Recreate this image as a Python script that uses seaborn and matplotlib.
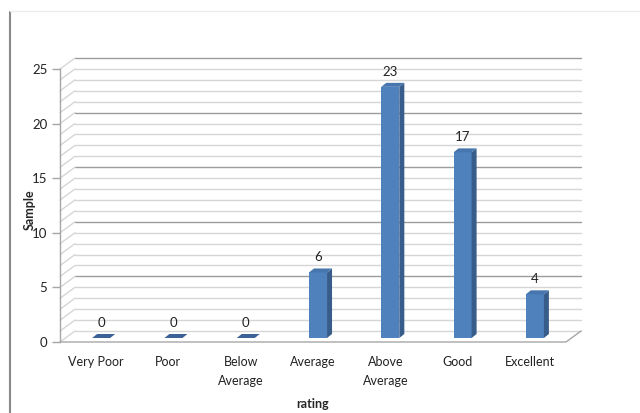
import matplotlib
matplotlib.use("Agg")
import matplotlib.pyplot as plt
from matplotlib.patches import Polygon
from matplotlib.lines import Line2D
import seaborn as sns
import pandas as pd

# Survey results: number of samples per rating
categories = ["Very Poor", "Poor", "Below\nAverage", "Average", "Above\nAverage", "Good", "Excellent"]
counts = [0, 0, 0, 6, 23, 17, 4]
y_ticks = [0, 5, 10, 15, 20, 25]

df = pd.DataFrame({"rating": categories, "Sample": counts})

sns.set_style("white")
plt.rcParams["font.family"] = ["Lato", "DejaVu Sans"]

DPI = 100
fig = plt.figure(figsize=(6.4, 4.13), dpi=DPI)
ax = fig.add_axes([60 / 640, 71 / 413, 506 / 640, 273 / 413])

FRONT = "#4F81BD"
SIDE = "#385D8A"
TOP = "#4776AF"
TOP_FLAT = "#3B6296"
GRID_MAJOR = "#9c9c9c"
GRID_MINOR = "#d6d6d6"
EDGE = "#a6a6a6"
TEXT = "#222222"

sns.barplot(data=df, x="rating", y="Sample", order=categories, color=FRONT,
            saturation=1, width=0.25, ax=ax, zorder=3)

ax.set_xlim(-0.5, len(categories) - 0.5)
ax.set_ylim(0, 25)

# pixel -> data conversion for the perspective offsets
bbox = ax.get_window_extent()
ppx = bbox.width / (len(categories))
ppy = bbox.height / 25.0


def px(dx_px, dy_px):
    return dx_px / ppx, dy_px / ppy


wx, wy = px(15, 11)   # depth of the back wall
fx, fy = px(5, 4)     # bar front plane offset
dx, dy = px(5, 4)     # bar depth

x0, x1 = -0.5, len(categories) - 0.5

# back wall and left wall gridlines
for v in range(0, 26):
    col = GRID_MAJOR if v % 5 == 0 and v > 0 else GRID_MINOR
    ax.add_line(Line2D([x0 + wx, x1 + wx], [v + wy, v + wy], color=col, lw=1.0,
                       zorder=0, clip_on=False))
    ax.add_line(Line2D([x0, x0 + wx], [v, v + wy], color=GRID_MINOR, lw=1.0,
                       zorder=0, clip_on=False))

# floor outline
ax.add_line(Line2D([x0, x1, x1 + wx], [0, 0, wy], color=EDGE, lw=1.0,
                   zorder=1, clip_on=False))

# extrude each seaborn bar into a 3D column
for patch, val in zip(ax.patches, counts):
    xl = patch.get_x() + fx
    w = patch.get_width()
    h = patch.get_height()
    xr = xl + w
    patch.set_x(xl)
    patch.set_y(fy)
    patch.set_edgecolor("none")
    patch.set_clip_on(False)
    if h > 0:
        side = Polygon([(xr, fy), (xr + dx, fy + dy), (xr + dx, h + fy + dy), (xr, h + fy)],
                       closed=True, facecolor=SIDE, edgecolor="none", zorder=3, clip_on=False)
        ax.add_patch(side)
    top = Polygon([(xl, h + fy), (xr, h + fy), (xr + dx, h + fy + dy), (xl + dx, h + fy + dy)],
                  closed=True, facecolor=TOP if h > 0 else TOP_FLAT, edgecolor="none",
                  zorder=4, clip_on=False)
    ax.add_patch(top)
    ax.annotate(str(val), (xl + w / 2, h + fy), xytext=(0, 9), textcoords="offset pixels",
                ha="center", va="bottom", fontsize=9.5, color=TEXT)

# axes styling
for s in ["top", "right", "bottom"]:
    ax.spines[s].set_visible(False)
ax.spines["left"].set_color(EDGE)
ax.spines["left"].set_linewidth(1.0)
ax.set_yticks(y_ticks)
ax.tick_params(axis="y", length=6, width=1, color=EDGE, pad=3, labelsize=9.5, labelcolor=TEXT,
               left=True)
ax.tick_params(axis="x", length=0, pad=10, labelsize=9, labelcolor=TEXT)
for lab in ax.get_xticklabels():
    lab.set_linespacing(1.75)
    lab.set_va("top")

ax.set_xlabel("rating", fontsize=9, fontweight="bold", labelpad=8)
ax.set_ylabel("Sample", fontsize=9, fontweight="bold")
ax.yaxis.set_label_coords(-0.048, 0.483)

# chart area border
fig.add_artist(Line2D([10 / 640, 10 / 640], [0, 1 - 12 / 413], color="#8a8a8a", lw=1.5,
                      transform=fig.transFigure))
fig.add_artist(Line2D([10 / 640, 1], [1 - 11 / 413, 1 - 11 / 413], color="#ececec", lw=1.0,
                      transform=fig.transFigure))

fig.savefig("out.png", dpi=DPI, facecolor="white")
